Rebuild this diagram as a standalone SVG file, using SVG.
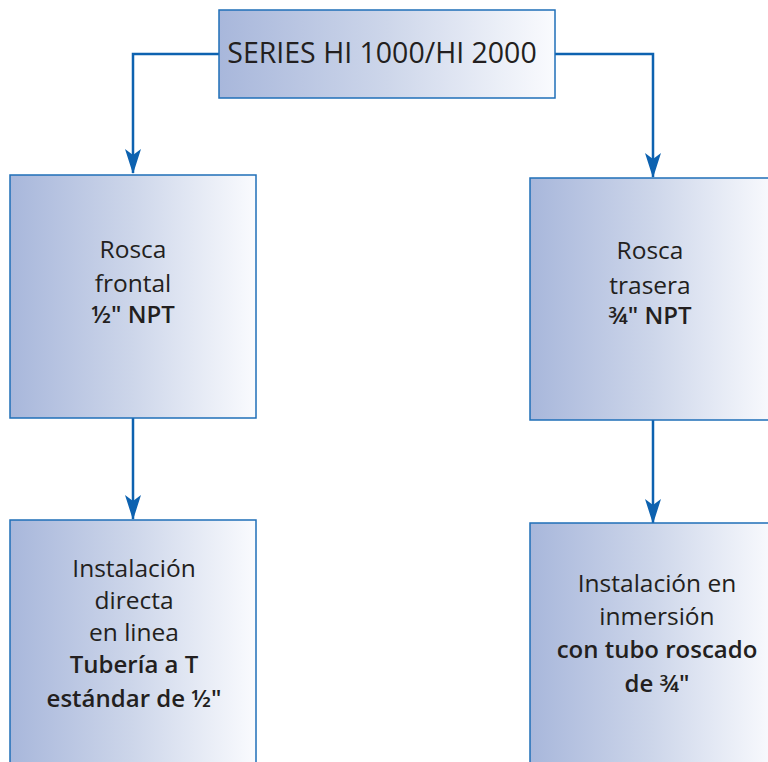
<svg xmlns="http://www.w3.org/2000/svg" width="768" height="762" viewBox="0 0 768 762">
<defs>
<linearGradient id="g" x1="0" y1="0" x2="1" y2="0">
<stop offset="0" stop-color="#a8b7db"/>
<stop offset="0.5" stop-color="#cdd6ea"/>
<stop offset="1" stop-color="#fafbfe"/>
</linearGradient>
<marker id="ah" markerWidth="25" markerHeight="16" refX="24" refY="8" orient="auto" markerUnits="userSpaceOnUse" viewBox="0 0 25 16">
<path d="M0,0 L25,8 L0,16 L6,8 Z" fill="#0d62b0"/>
</marker>
<style>
.box{fill:url(#g);stroke:#1f6fb8;stroke-width:1.5}
.t{font-family:"Open Sans","Noto Sans","Liberation Sans",sans-serif;fill:#231f20;text-anchor:middle}
.n{font-size:24.5px}
.b{font-size:24px;font-weight:600}
.c{fill:none;stroke:#0d62b0;stroke-width:2.5}
</style>
</defs>
<g id="connectors">
<path class="c" d="M219,54 H133 V173" marker-end="url(#ah)"/>
<path class="c" d="M555,54 H653 V177" marker-end="url(#ah)"/>
<path class="c" d="M133,418 V519" marker-end="url(#ah)"/>
<path class="c" d="M653,420 V523" marker-end="url(#ah)"/>
</g>
<g id="series">
<rect class="box" x="219" y="10" width="336" height="88"/>
<text class="t" x="382" y="63" font-size="28.5">SERIES HI 1000/HI 2000</text>
</g>
<g id="rosca-frontal">
<rect class="box" x="10" y="175" width="246" height="243"/>
<text class="t n" x="133" y="258">Rosca</text>
<text class="t n" x="133" y="292">frontal</text>
<text class="t b" x="133" y="323">½" NPT</text>
</g>
<g id="rosca-trasera">
<rect class="box" x="530" y="178" width="246" height="242"/>
<text class="t n" x="650" y="259">Rosca</text>
<text class="t n" x="650" y="294">trasera</text>
<text class="t b" x="650" y="324">¾" NPT</text>
</g>
<g id="instalacion-directa">
<rect class="box" x="10" y="520" width="246" height="250"/>
<text class="t n" x="134" y="577">Instalación</text>
<text class="t n" x="134" y="609">directa</text>
<text class="t n" x="134" y="641">en linea</text>
<text class="t b" x="134" y="673">Tubería a T</text>
<text class="t b" x="134" y="707">estándar de ½"</text>
</g>
<g id="instalacion-inmersion">
<rect class="box" x="530" y="523" width="246" height="247"/>
<text class="t n" x="657" y="592">Instalación en</text>
<text class="t n" x="657" y="625">inmersión</text>
<text class="t b" x="657" y="658">con tubo roscado</text>
<text class="t b" x="657" y="692">de ¾"</text>
</g>
</svg>
